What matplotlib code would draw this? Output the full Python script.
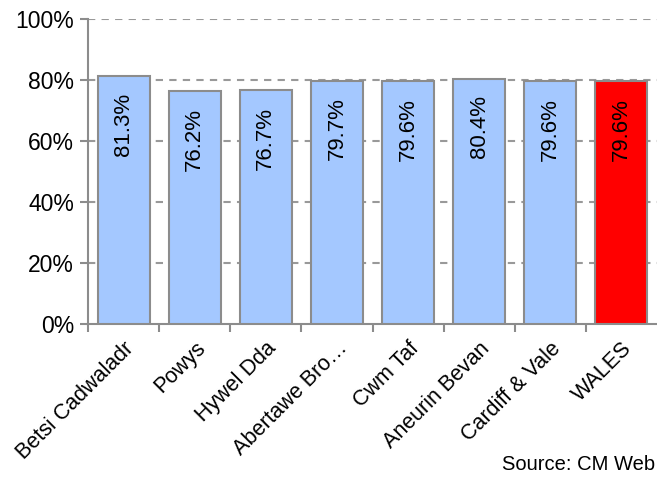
import numpy as np
import matplotlib.pyplot as plt

plt.rcParams['font.family'] = ['Liberation Sans', 'DejaVu Sans']

# data
boards = ['Betsi Cadwaladr', 'Powys', 'Hywel Dda', 'Abertawe Bro\u2026',
          'Cwm Taf', 'Aneurin Bevan', 'Cardiff & Vale', 'WALES']
values = [81.3, 76.2, 76.7, 79.7, 79.6, 80.4, 79.6, 79.6]
y_ticks = [0, 20, 40, 60, 80, 100]

blue = '#A4C8FF'
red = '#FF0000'
edge = '#8C8C8C'


def draw():
    fig = plt.figure(figsize=(6.57, 4.82), dpi=100)
    ax = fig.add_axes([0.134, 0.328, 0.866, 0.633])

    x = np.arange(len(boards))
    colors = [blue] * (len(boards) - 1) + [red]
    ax.bar(x, values, width=0.73, color=colors, edgecolor=edge, lw=1.5, zorder=3)

    for xi, v in zip(x, values):
        ax.annotate('%.1f%%' % v, (xi, v), xytext=(0, -12), textcoords='offset points',
                    rotation=90, ha='center', va='top', fontsize=16, zorder=4)

    ax.set_xlim(-0.5, len(boards) - 0.5)
    ax.set_ylim(0, 100)
    ax.set_yticks(y_ticks)
    ax.set_yticklabels(['%d%%' % t for t in y_ticks], fontsize=16.5)

    # dashed grid
    for t in y_ticks[1:]:
        ax.axhline(t, color='#999999', lw=1.5, ls=(0, (3.5, 3)), zorder=1)

    ax.set_xticks(x)
    ax.set_xticklabels(boards, rotation=45, ha='right', va='top',
                       rotation_mode='anchor', fontsize=15.5)
    ax.tick_params(axis='x', which='major', length=0, pad=10)
    ax.set_xticks(np.arange(len(boards)) - 0.5, minor=True)
    ax.tick_params(axis='x', which='minor', length=6, width=1.5, color=edge, direction='out')
    ax.tick_params(axis='y', length=6, width=1.5, color=edge, direction='out', pad=4)

    for s in ['top', 'right']:
        ax.spines[s].set_visible(False)
    for s in ['left', 'bottom']:
        ax.spines[s].set_color(edge)
        ax.spines[s].set_linewidth(1.5)

    fig.text(0.997, 0.016, 'Source: CM Web', ha='right', va='bottom', fontsize=14.5)

    plt.savefig('out.png', dpi=100)


if __name__ == '__main__':
    draw()
